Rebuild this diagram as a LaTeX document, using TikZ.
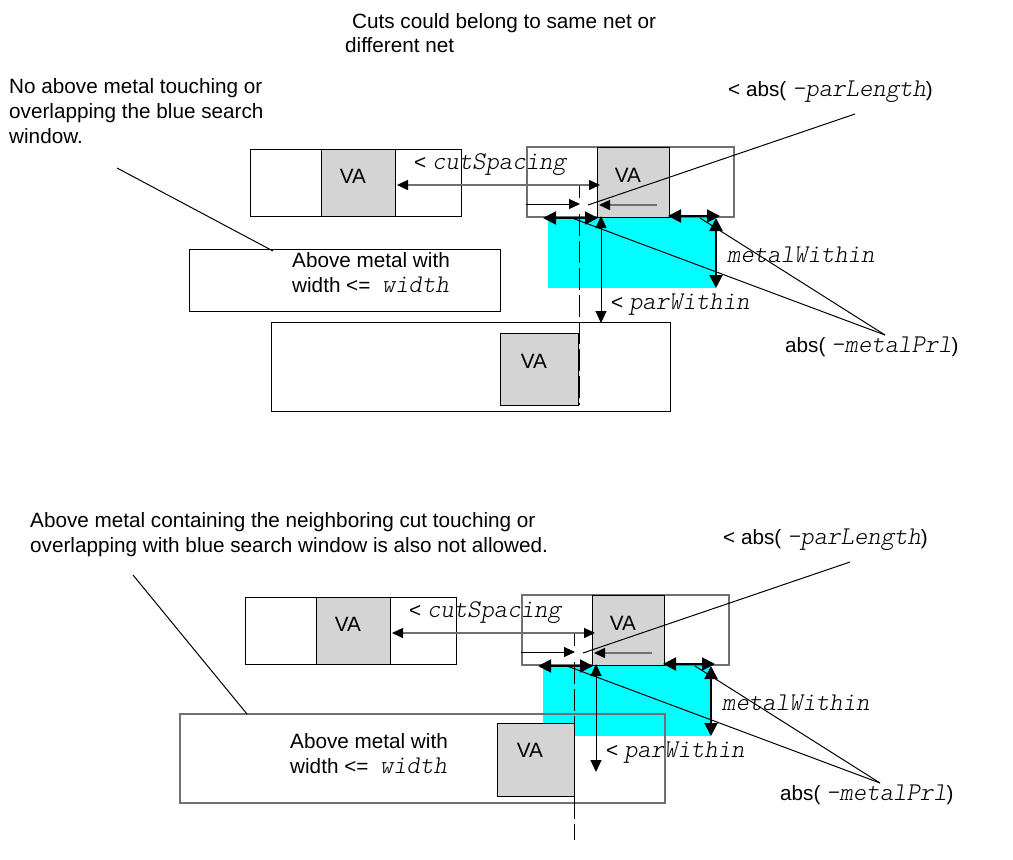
\documentclass[tikz,border=0pt]{standalone}
\usepackage{fontspec}
\setmainfont{Liberation Sans}
\usepackage{tikz}
\usetikzlibrary{arrows.meta,positioning}
\definecolor{viagray}{HTML}{D4D4D4}
\definecolor{edgegray}{HTML}{707070}
\definecolor{windowcyan}{HTML}{00FFFF}
\newcommand{\codetxt}[1]{{\fontsize{25.5}{25}\fontseries{l}\ttfamily\slshape\selectfont #1}}
\tikzset{
  note/.style={inner sep=0pt, align=left, anchor=west, font=\fontsize{20.7}{25}\selectfont},
  viatxt/.style={inner sep=0pt, font=\fontsize{20.7}{22}\selectfont},
  metal/.style={draw=black, line width=1pt, inner sep=0pt},
  metalgray/.style={draw=edgegray, line width=1.5pt, inner sep=0pt},
  viacut/.style={draw=black, line width=1pt, fill=viagray, inner sep=0pt},
  leader/.style={draw=black, line width=1pt},
  cutline/.style={draw=black, line width=1pt, dash pattern=on 22pt off 5pt},
  thinarrow/.style={line width=1pt, -{Triangle[length=11pt,width=10pt]}},
  grayarrow/.style={draw=edgegray, line width=1.5pt, {Triangle[length=11pt,width=10pt,black]}-{Triangle[length=11pt,width=10pt,black]}},
  grayleft/.style={draw=edgegray, line width=1.5pt, -{Triangle[length=11pt,width=10pt,black]}},
  bluearrow/.style={line width=1pt, {Triangle[length=12pt,width=11pt]}-{Triangle[length=12pt,width=11pt]}},
  boldarrow/.style={line width=2pt, {Triangle[length=13pt,width=13pt]}-{Triangle[length=13pt,width=13pt]}}
}
\begin{document}
\begin{tikzpicture}[x=1pt, y=-1pt]
  \useasboundingbox (0,0) rectangle (1013,860);

  % the cut pair, the search window and its rules, same in both cases
  \foreach \p/\dx/\dy in {u/0/0, l/-5/448} {
  \begin{scope}[shift={(\dx,\dy)}]
    \node[fill=windowcyan, inner sep=0pt, minimum width=168pt, minimum height=71pt] (\p win) at (632,252.5) {};
    \node[metal, minimum width=211pt, minimum height=67pt] (\p metalA) at (355.5,182.5) {};
    \node[viacut, minimum width=74pt, minimum height=67pt] (\p cutA) at (358,182.5) {};
    \node[viatxt] (\p vaA) at (353,176) {VA};
    \node[metalgray, minimum width=207pt, minimum height=70pt] (\p metalB) at (630.5,182) {};
    \node[viacut, minimum width=72pt, minimum height=70pt] (\p cutB) at (633,182) {};
    \node[viatxt] (\p vaB) at (628,175) {VA};

    \coordinate (\p dashA) at (579,186);
    \coordinate (\p dashB) at (579,198);
    \draw[cutline] (\p dashA) -- (\p dashB);

    \coordinate (\p spA) at (397,185);
    \coordinate (\p spB) at (600,185);
    \coordinate (\p inA) at (526,204);
    \coordinate (\p inB) at (580,204);
    \coordinate (\p inC) at (657,205);
    \coordinate (\p inD) at (599,205);
    \coordinate (\p prA) at (543,218);
    \coordinate (\p prB) at (598,218);
    \coordinate (\p prC) at (668,216);
    \coordinate (\p prD) at (720,216);
    \coordinate (\p mwA) at (716,218);
    \coordinate (\p mwB) at (716,288);
    \coordinate (\p ldA) at (855,114);
    \coordinate (\p ldB) at (588,205);
    \coordinate (\p ldC) at (572,218);
    \coordinate (\p ldD) at (700,218);
    \coordinate (\p ldE) at (885,335);

    \draw[grayarrow] (\p spA) -- (\p spB);
    \draw[thinarrow] (\p inA) -- (\p inB);
    \draw[grayleft] (\p inC) -- (\p inD);
    \draw[boldarrow] (\p prA) -- (\p prB);
    \draw[boldarrow] (\p prC) -- (\p prD);
    \draw[boldarrow] (\p mwA) -- (\p mwB);
    \draw[leader] (\p ldA) -- (\p ldB);
    \draw[leader] (\p ldC) -- (\p ldE);
    \draw[leader] (\p ldD) -- (\p ldE);

    \node[note] (\p parlen) at (728,92) {< abs( \codetxt{-parLength})};
    \node[note] (\p cutsp) at (414,165) {< \codetxt{cutSpacing}};
    \node[note] (\p metwin) at (727,255) {\codetxt{metalWithin}};
    \node[note] (\p parwin) at (611,305) {< \codetxt{parWithin}};
    \node[note] (\p metprl) at (785,347) {abs( \codetxt{-metalPrl})};
  \end{scope}
  }

  % first case
  \node[note] (cuts1) at (352,23) {Cuts could belong to same net or};
  \node[note] (cuts2) at (345,45) {different net};
  \node[note] (noabove) at (9,111) {No above metal touching or\\overlapping the blue search\\window.};
  \node[metal, minimum width=311pt, minimum height=62pt] (abovemetal) at (344.5,280) {};
  \node[note] (abovetxt) at (292,272.5) {Above metal with\\width <= \ \codetxt{width}};
  \node[metal, minimum width=399pt, minimum height=89pt] (lowermetal) at (470.5,366.5) {};
  \node[viacut, minimum width=78pt, minimum height=72pt] (lowercut) at (539,369) {};
  \node[viatxt] (lowerva) at (534,361) {VA};
  \coordinate (dash1) at (579,214);
  \coordinate (dash2) at (579,405);
  \draw[cutline] (dash1) -- (dash2);
  \coordinate (pw1) at (601,216);
  \coordinate (pw2) at (601,323);
  \draw[bluearrow] (pw1) -- (pw2);
  \coordinate (ld1) at (117,168);
  \coordinate (ld2) at (273,251);
  \draw[leader] (ld1) -- (ld2);

  % second case
  \node[note] (alsonot) at (30,534.5) {Above metal containing the neighboring cut touching or\\overlapping with blue search window is also not allowed.};
  \node[metalgray, minimum width=485pt, minimum height=89pt] (abovemetalb) at (422.5,758.5) {};
  \node[note] (abovetxtb) at (290,753.5) {Above metal with\\width <= \ \codetxt{width}};
  \node[viacut, minimum width=77pt, minimum height=73pt] (lowercutb) at (535.5,759.5) {};
  \node[viatxt] (lowervab) at (530,750) {VA};
  \coordinate (dash3) at (574,662);
  \coordinate (dash4) at (574,840);
  \draw[cutline] (dash3) -- (dash4);
  \coordinate (pw3) at (596,664);
  \coordinate (pw4) at (596,772);
  \draw[bluearrow] (pw3) -- (pw4);
  \coordinate (ld3) at (133,575);
  \coordinate (ld4) at (247,714);
  \draw[leader] (ld3) -- (ld4);
\end{tikzpicture}
\end{document}
